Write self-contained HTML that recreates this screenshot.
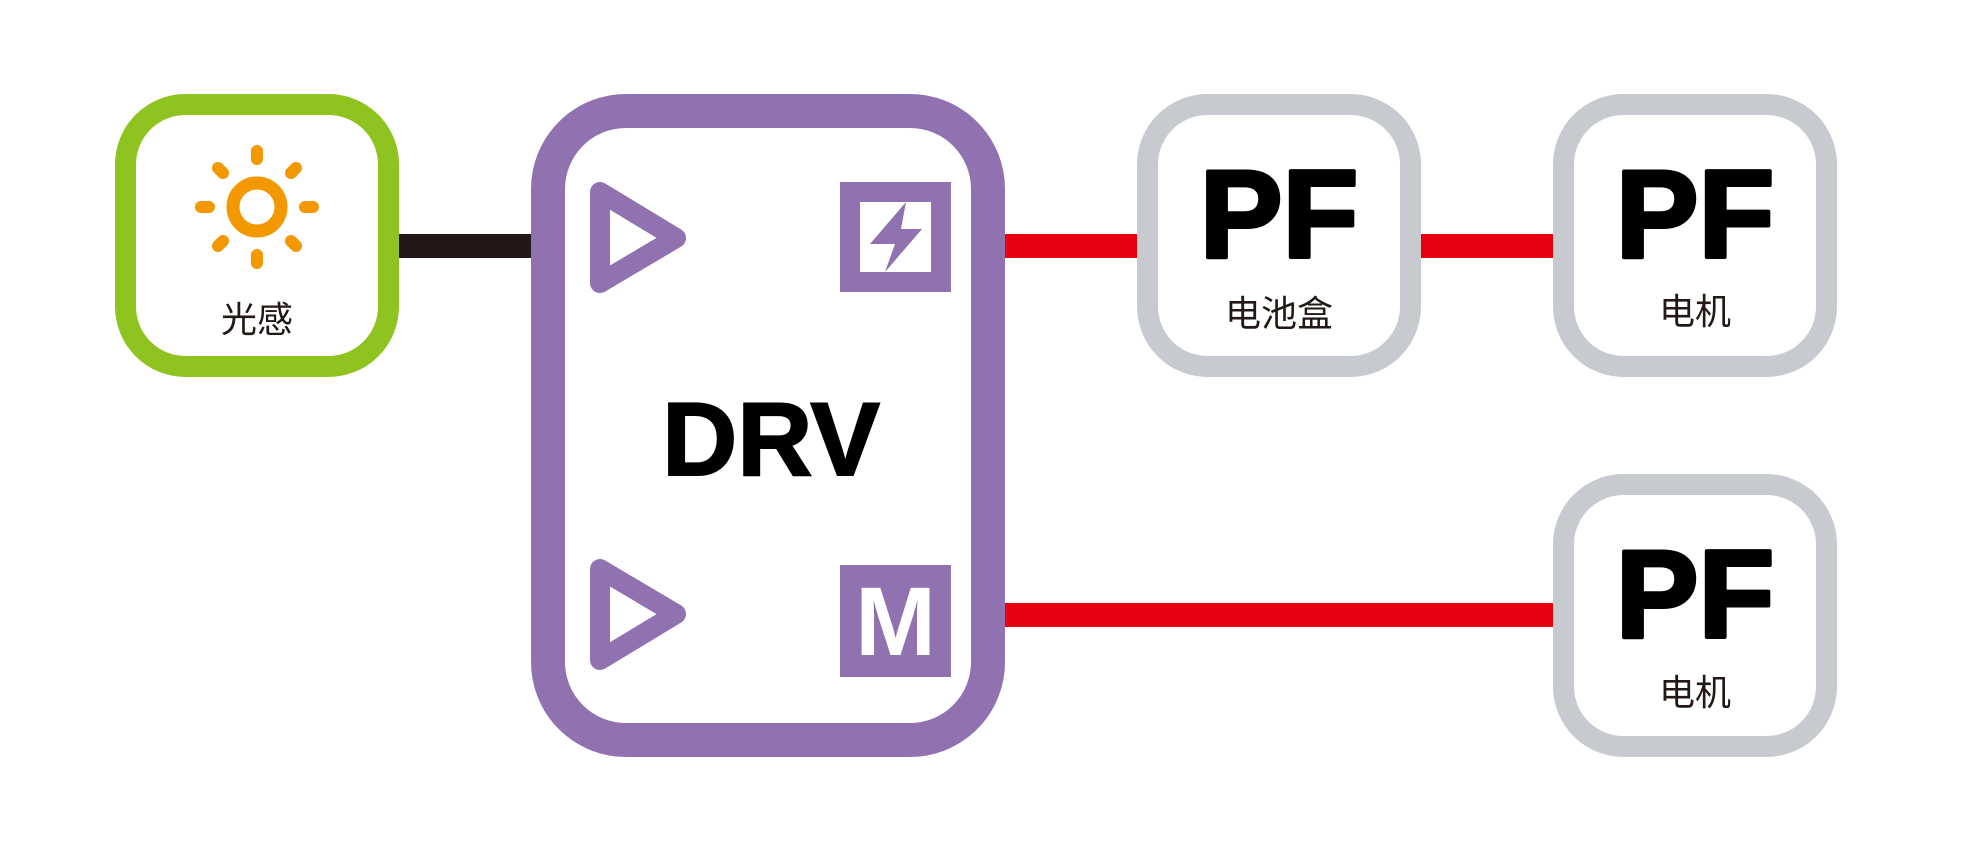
<!DOCTYPE html>
<html><head><meta charset="utf-8"><style>
html,body{margin:0;padding:0;background:#fff;}
svg{display:block;}
</style></head><body>
<svg width="1965" height="860" viewBox="0 0 1965 860" xmlns="http://www.w3.org/2000/svg">
<rect width="1965" height="860" fill="#fff"/>
<!-- connectors -->
<rect x="395" y="234" width="140" height="24" fill="#231815"/>
<rect x="1000" y="234" width="140" height="24" fill="#e60012"/>
<rect x="1415" y="234" width="142" height="24" fill="#e60012"/>
<rect x="1000" y="603" width="557" height="24" fill="#e60012"/>
<!-- green box -->
<rect x="125.5" y="104.5" width="263" height="262" rx="60" fill="#fff" stroke="#8fc31f" stroke-width="21"/>
<circle cx="257" cy="207" r="24" fill="none" stroke="#f39800" stroke-width="13"/>
<g stroke="#f39800" stroke-width="12" stroke-linecap="round">
<line x1="257" y1="151" x2="257" y2="159"/>
<line x1="257" y1="255" x2="257" y2="263"/>
<line x1="201" y1="207" x2="209" y2="207"/>
<line x1="305" y1="207" x2="313" y2="207"/>
<line x1="218" y1="168" x2="223" y2="173"/>
<line x1="291" y1="241" x2="296" y2="246"/>
<line x1="296" y1="168" x2="291" y2="173"/>
<line x1="223" y1="241" x2="218" y2="246"/>
</g>
<text x="257" y="332" text-anchor="middle" font-family="'Liberation Sans','Noto Sans CJK SC',sans-serif" font-size="36" fill="#231815">光感</text>
<!-- DRV -->
<rect x="548" y="111" width="440" height="629" rx="78" fill="#fff" stroke="#9072b0" stroke-width="34"/>
<g fill="none" stroke="#9072b0" stroke-width="20" stroke-linejoin="round">
<polygon points="600,192 600,283 676,238"/>
<polygon points="600,569 600,660 676,614"/>
</g>
<rect x="850" y="192" width="91" height="90" fill="#fff" stroke="#9072b0" stroke-width="20"/>
<polygon points="906,202 870,244 895,244 885,272 922,229 901,229" fill="#9072b0"/>
<rect x="840" y="565" width="111" height="112" fill="#9072b0"/>
<text x="895.5" y="655" text-anchor="middle" font-family="'Liberation Sans',sans-serif" font-weight="bold" font-size="97" fill="#fff">M</text>
<text x="771" y="475" text-anchor="middle" font-family="'Liberation Sans',sans-serif" font-weight="bold" font-size="104" fill="#000" stroke="#000" stroke-width="2">DRV</text>
<!-- gray boxes -->
<g fill="#fff" stroke="#c7cbcf" stroke-width="21">
<rect x="1147.5" y="104.5" width="263" height="262" rx="60"/>
<rect x="1563.5" y="104.5" width="263" height="262" rx="60"/>
<rect x="1563.5" y="484.5" width="263" height="262" rx="60"/>
</g>
<g font-family="'Liberation Sans',sans-serif" font-weight="bold" font-size="124" fill="#000" stroke="#000" stroke-width="4" stroke-linejoin="round" text-anchor="middle">
<text x="1279" y="257">PF</text>
<text x="1695" y="257">PF</text>
<text x="1695" y="637">PF</text>
</g>
<g font-family="'Liberation Sans','Noto Sans CJK SC',sans-serif" font-size="36" fill="#231815" text-anchor="middle">
<text x="1279" y="326">电池盒</text>
<text x="1695" y="324">电机</text>
<text x="1695" y="705">电机</text>
</g>
</svg>
</body></html>
